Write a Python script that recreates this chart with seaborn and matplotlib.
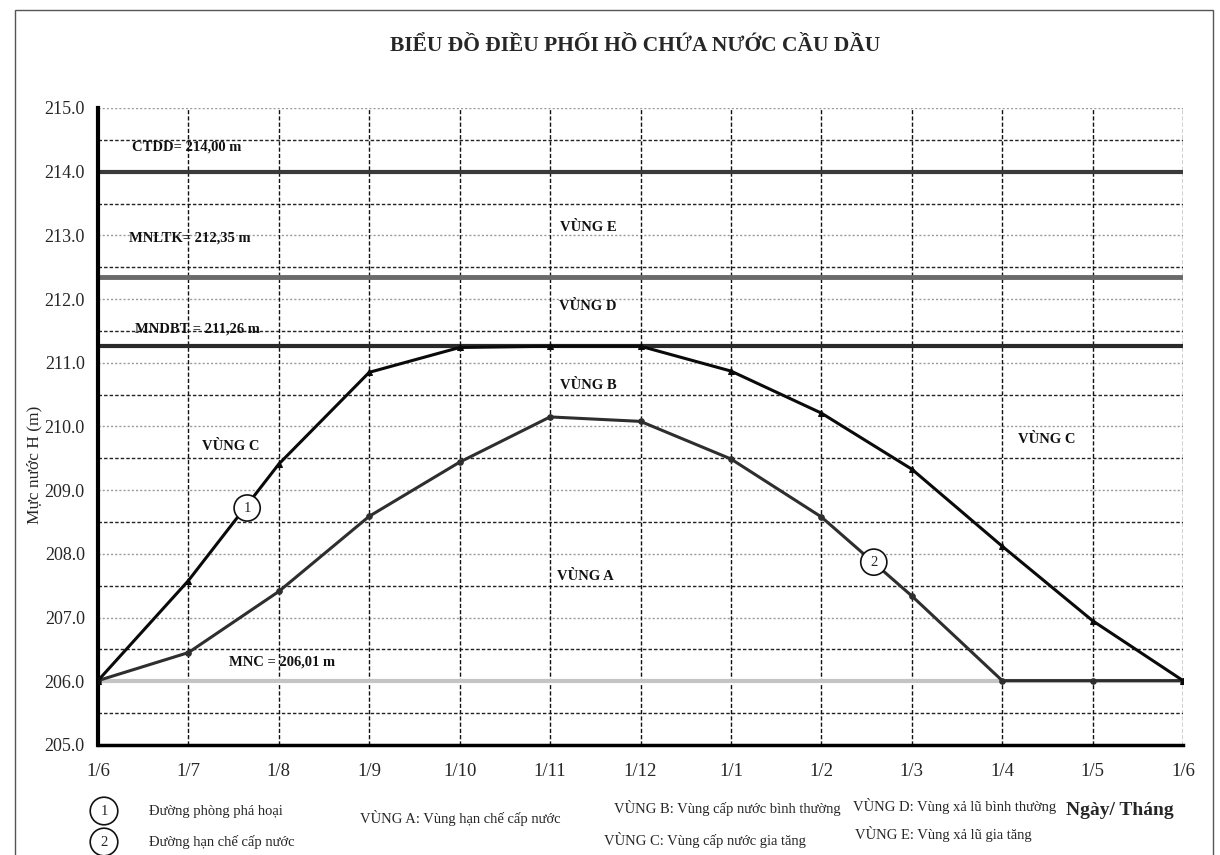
import numpy as np
import pandas as pd
import matplotlib
matplotlib.use("Agg")
import matplotlib.pyplot as plt
from matplotlib.patches import Rectangle
import seaborn as sns

# ---- data ----
months = ["1/6", "1/7", "1/8", "1/9", "1/10", "1/11", "1/12",
          "1/1", "1/2", "1/3", "1/4", "1/5", "1/6"]
line1_vals = [206.01, 207.58, 209.41, 210.85, 211.24, 211.26, 211.26,
              210.87, 210.21, 209.33, 208.12, 206.95, 206.01]
line2_vals = [206.01, 206.45, 207.41, 208.59, 209.44, 210.15, 210.08,
              209.49, 208.58, 207.34, 206.01, 206.01, 206.01]
ref_levels = [214.00, 212.35, 211.26, 206.01]
ref_labels = ["CTDD= 214,00 m", "MNLTK= 212,35 m", "MNDBT = 211,26 m", "MNC = 206,01 m"]
yticks = [205.0, 206.0, 207.0, 208.0, 209.0, 210.0, 211.0, 212.0, 213.0, 214.0, 215.0]

sns.set_style("white")
plt.rcParams['font.family'] = ['Liberation Serif', 'DejaVu Serif']

fig = plt.figure(figsize=(12.2, 8.55), dpi=100)
ax = fig.add_axes([0.0803, 0.1287, 0.8894, 0.745])

pos = np.arange(len(months))
df = pd.DataFrame({"pos": pos, "l1": line1_vals, "l2": line2_vals})

# grid
for yv in np.arange(205.5, 215.01, 1.0):
    ax.axhline(yv, color="#222222", lw=1.0, ls=(0, (2.5, 1.5)), zorder=1)
for yv in np.arange(206.0, 215.01, 1.0):
    ax.axhline(yv, color="#9a9a9a", lw=1.0, ls=(0, (1.5, 1.5)), zorder=1)
for xv in pos[1:]:
    ax.axvline(xv, color="#111111", lw=1.0, ls=(0, (3, 1.5)), zorder=1)

# reference levels
ax.axhline(ref_levels[0], color="#3a3a3a", lw=3.0, zorder=2)
ax.axhline(ref_levels[1], color="#6a6a6a", lw=3.5, zorder=2)
ax.axhline(ref_levels[2], color="#2a2a2a", lw=3.0, zorder=2)
ax.axhline(ref_levels[3], color="#c4c4c4", lw=3.0, zorder=2)

sns.lineplot(data=df, x="pos", y="l2", ax=ax, color="#2e2e2e", lw=2.2,
             marker="o", markersize=4, markeredgecolor="#2e2e2e", zorder=4)
sns.lineplot(data=df, x="pos", y="l1", ax=ax, color="#0a0a0a", lw=2.2,
             marker="^", markersize=5, markeredgecolor="#0a0a0a", zorder=5)

ax.set_xlim(0, 12)
ax.set_ylim(205, 215)
ax.set_xticks(pos)
ax.set_xticklabels(months, fontsize=13.5)
ax.set_yticks(yticks)
ax.set_yticklabels([f"{v:.1f}" for v in yticks], fontsize=13)
ax.set_yticks(np.arange(205.5, 215, 1.0), minor=True)
ax.tick_params(axis="y", which="major", direction="inout", length=7, width=1.5, pad=6)
ax.tick_params(axis="y", which="minor", direction="in", length=4, width=1.5)
ax.tick_params(axis="x", length=0, pad=13)
ax.set_xlabel("")
ax.set_ylabel("Mực nước H (m)", fontsize=12.5, labelpad=2)
ax.yaxis.set_label_coords(-0.051, 0.44)

for s in ["top", "right"]:
    ax.spines[s].set_visible(False)
ax.spines["left"].set_linewidth(3)
ax.spines["bottom"].set_linewidth(2.5)
ax.spines["left"].set_color("black")
ax.spines["bottom"].set_color("black")

# level labels
tk = dict(fontsize=10.5, fontweight="bold", color="#111111", zorder=6,
          ha="center", va="center")
ax.text(0.98, 214.39, ref_labels[0], **tk)
ax.text(1.02, 212.96, ref_labels[1], **tk)
ax.text(1.10, 211.53, ref_labels[2], **tk)
ax.text(2.04, 206.31, ref_labels[3], **tk)

# zone labels
zk = dict(fontsize=10.5, fontweight="bold", color="#111111", ha="center", va="center", zorder=6)
ax.text(5.42, 213.12, "VÙNG E", **zk)
ax.text(5.42, 211.88, "VÙNG D", **zk)
ax.text(5.42, 210.65, "VÙNG B", **zk)
ax.text(1.47, 209.68, "VÙNG C", **zk)
ax.text(10.49, 209.79, "VÙNG C", **zk)
ax.text(5.39, 207.64, "VÙNG A", **zk)

ck = dict(fontsize=10.5, ha="center", va="center", zorder=7,
          bbox=dict(boxstyle="circle,pad=0.45", fc="white", ec="#111111", lw=1.2))
ax.text(1.65, 208.72, "1", **ck)
ax.text(8.58, 207.87, "2", **ck)

# title
fig.text(0.521, 1 - 46 / 855, "BIỂU ĐỒ ĐIỀU PHỐI HỒ CHỨA NƯỚC CẦU DẦU",
         ha="center", va="center", fontsize=15.5, fontweight="bold")

# bottom legend
lc = dict(ha="center", va="center", fontsize=10.5,
          bbox=dict(boxstyle="circle,pad=0.5", fc="white", ec="#111111", lw=1.2))
fig.text(104 / 1220, 1 - 811 / 855, "1", **lc)
fig.text(104 / 1220, 1 - 842 / 855, "2", **lc)
lk = dict(fontsize=10.5, va="center", ha="left")
fig.text(149 / 1220, 1 - 811 / 855, "Đường phòng phá hoại", **lk)
fig.text(149 / 1220, 1 - 842 / 855, "Đường hạn chế cấp nước", **lk)
fig.text(360 / 1220, 1 - 818 / 855, "VÙNG A: Vùng hạn chế cấp nước", **lk)
fig.text(614 / 1220, 1 - 808 / 855, "VÙNG B: Vùng cấp nước bình thường", **lk)
fig.text(604 / 1220, 1 - 840 / 855, "VÙNG C: Vùng cấp nước gia tăng", **lk)
fig.text(853 / 1220, 1 - 806 / 855, "VÙNG D: Vùng xả lũ bình thường", **lk)
fig.text(855 / 1220, 1 - 834 / 855, "VÙNG E: Vùng xả lũ gia tăng", **lk)
fig.text(1066 / 1220, 1 - 810 / 855, "Ngày/ Tháng", fontsize=14, fontweight="bold",
         va="center", ha="left")

# scan frame
fig.patches.append(Rectangle((0.0123, -0.01), 0.982, 0.998, transform=fig.transFigure,
                             fill=False, ec="#555555", lw=1.0))

fig.savefig("out.png", dpi=100)
